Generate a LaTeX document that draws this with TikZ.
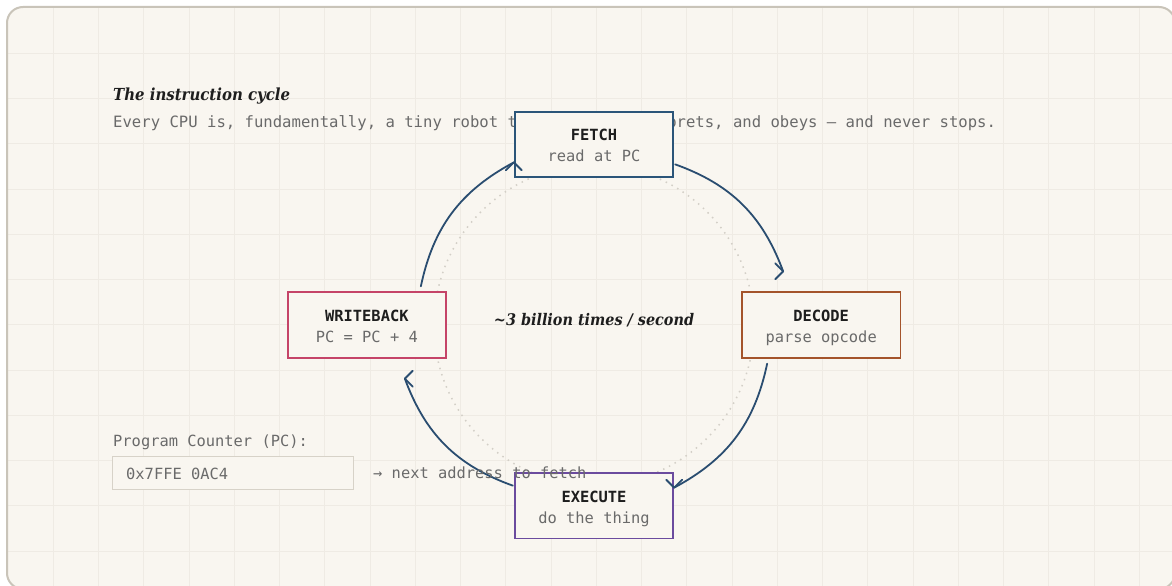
\documentclass[tikz,border=0pt]{standalone}
\usepackage{fontspec}
\setmonofont{DejaVu Sans Mono}
\newfontfamily\headserif{DejaVu Serif Condensed}
\usepackage{tikz}
\usetikzlibrary{positioning, calc}
\definecolor{paper}{HTML}{F9F6F0}
\definecolor{edge}{HTML}{C9C4B9}
\definecolor{gridln}{HTML}{EFEBE4}
\definecolor{ink}{HTML}{1E1E1E}
\definecolor{muted}{HTML}{6A6A6A}
\definecolor{flow}{HTML}{2A4D70}
\definecolor{fetchc}{HTML}{2B5579}
\definecolor{decodec}{HTML}{A4542B}
\definecolor{execc}{HTML}{6B4B9E}
\definecolor{wbc}{HTML}{C54468}
\definecolor{ring}{HTML}{D3CFC7}
\definecolor{pcedge}{HTML}{D7D2C8}

% fixed line box so every stage sits the same way
\newcommand\vstrut{\rule[-3.5pt]{0pt}{21pt}}
\newcommand\stage[2]{\vstrut{\bfseries\color{ink}#1}\\\vstrut{\color{muted}#2}}

\begin{document}
\begin{tikzpicture}[x=1pt, y=-1pt,
    mono/.style={font=\fontsize{15.4}{21}\selectfont\ttfamily},
    serifit/.style={font=\fontsize{16.6}{21}\selectfont\headserif\bfseries\itshape, text=ink},
    plain/.style={inner sep=0pt, anchor=base west},
    stagebox/.style={rectangle, draw, line width=1.8pt, fill=paper, mono,
      minimum width=158.5pt, minimum height=65.5pt, inner sep=0pt, align=center},
    flowline/.style={draw=flow, line width=1.8pt, line cap=round, line join=round},
    chev/.pic={\draw[flowline] (-8pt,-8pt) -- (0,0) -- (8pt,-8pt);},
    node distance=147pt]

  \useasboundingbox (0,0) rectangle (1172,586);
  \fill[white] (0,0) rectangle (1172,586);

  % card and grid
  \begin{scope}
    \clip[rounded corners=16pt] (7,7) rectangle (1175,589);
    \fill[paper] (0,0) rectangle (1180,600);
    \foreach \k in {1,...,25}
      \draw[gridln, line width=1pt] (8+45.25*\k,0) -- (8+45.25*\k,600);
    \foreach \k in {1,...,12}
      \draw[gridln, line width=1pt] (0,8+45.25*\k) -- (1180,8+45.25*\k);
  \end{scope}
  \draw[edge, line width=2pt, rounded corners=16pt] (7,7) rectangle (1175,589);

  \coordinate (hub) at (594,325);
  \draw[ring, line width=1.5pt, dash pattern=on 1.5pt off 5pt] (hub) circle[radius=160pt];

  \node[serifit, plain] (title) at (113,100) {The instruction cycle};
  \node[plain, font=\fontsize{15.6}{21}\selectfont\ttfamily, text=muted]
    (lede) at (113,127) {Every CPU is, fundamentally, a tiny robot that reads, interprets, and obeys — and never stops.};

  \node[stagebox, draw=fetchc, above=of hub] (fetch) {\stage{FETCH}{read at PC}};
  \node[stagebox, draw=decodec, right=of hub] (decode) {\stage{DECODE}{parse opcode}};
  \node[stagebox, draw=execc, below=of hub] (execute) {\stage{EXECUTE}{do the thing}};
  \node[stagebox, draw=wbc, left=of hub] (writeback) {\stage{WRITEBACK}{PC = PC + 4}};

  \node[serifit, font=\fontsize{16}{21}\selectfont\headserif\bfseries\itshape,
    anchor=base, inner sep=0pt] (rate) at (hub) {\textasciitilde3 billion times / second};

  % arc ends
  \coordinate (wbout) at ([xshift=54pt, yshift=5pt]writeback.north);
  \coordinate (fein) at ([yshift=-18pt]fetch.west);
  \coordinate (feout) at ([xshift=1pt, yshift=-20pt]fetch.east);
  \coordinate (dein) at ([xshift=-38pt, yshift=20pt]decode.north);
  \coordinate (deout) at ([xshift=-54pt, yshift=-5pt]decode.south);
  \coordinate (exin) at ([yshift=18pt]execute.east);
  \coordinate (exout) at ([xshift=-1pt, yshift=20pt]execute.west);
  \coordinate (wbin) at ([xshift=38pt, yshift=-20pt]writeback.south);

  \draw[flowline] (wbout) to[bend left=25] (fein);
  \draw[flowline] (feout) to[bend left=25] (dein);
  \draw[flowline] (deout) to[bend left=25] (exin);
  \draw[flowline] (exout) to[bend left=25] (wbin);
  \pic at (fein) {chev};
  \pic[rotate=-90] at (dein) {chev};
  \pic[rotate=180] at (exin) {chev};
  \pic[rotate=90] at (wbin) {chev};

  % program counter readout
  \node[mono, plain, text=muted] (pclabel) at (113,446) {Program Counter (PC):};
  \node[draw=pcedge, line width=1.2pt, fill=paper, anchor=north west,
    minimum width=241pt, minimum height=33pt] (pc) at (112,456) {};
  \node[mono, plain, text=muted] (pcval) at (126,479) {0x7FFE 0AC4};
  \node[mono, plain, text=muted] (nextaddr) at (373,478) {→ next address to fetch};
\end{tikzpicture}
\end{document}
